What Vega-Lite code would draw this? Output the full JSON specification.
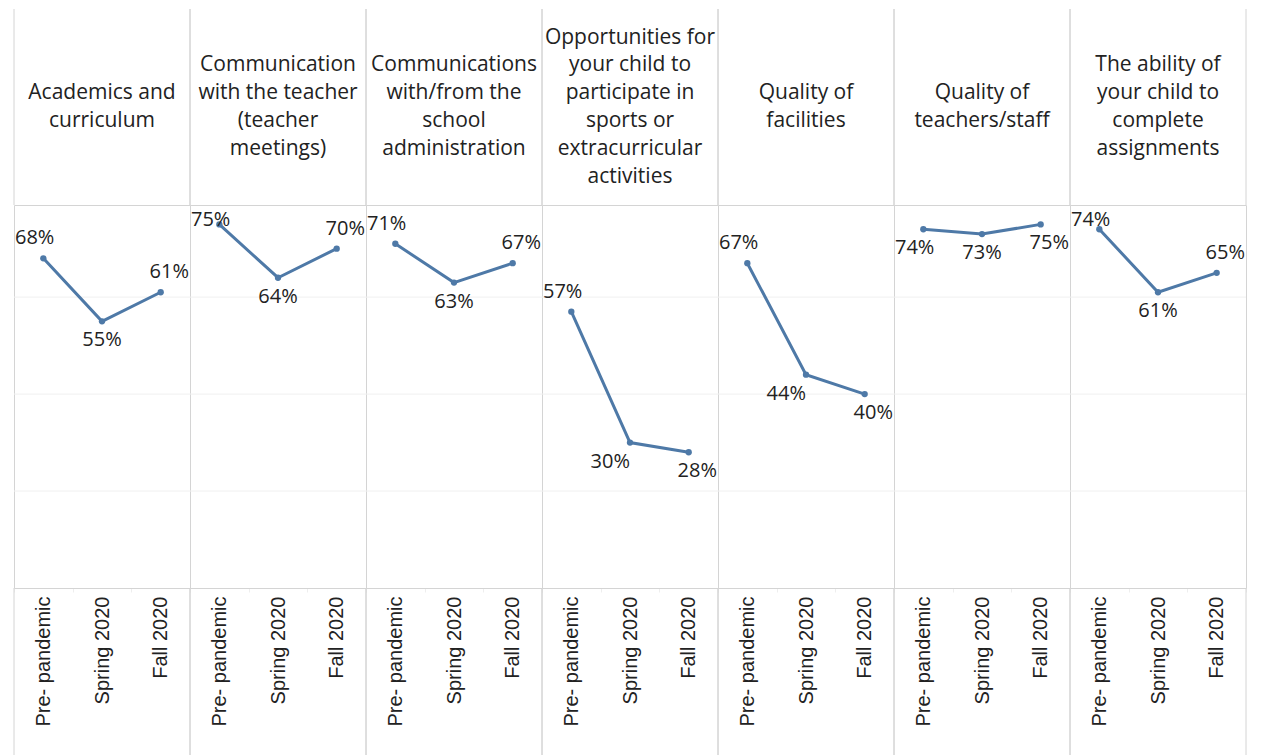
{
  "$schema": "https://vega.github.io/schema/vega-lite/v6.json",
  "padding": {"left": 4, "top": 8, "right": 0, "bottom": 0},
  "autosize": {"type": "pad"},
  "background": "white",
  "config": {"view": {"stroke": "#d4d4d4"}, "font": "Open Sans"},
  "data": {
    "values": [
      {"category": "Academics and|curriculum", "period": "Pre- pandemic", "value": 0.68},
      {"category": "Academics and|curriculum", "period": "Spring 2020", "value": 0.55},
      {"category": "Academics and|curriculum", "period": "Fall 2020", "value": 0.61},
      {"category": "Communication|with the teacher|(teacher|meetings)", "period": "Pre- pandemic", "value": 0.75},
      {"category": "Communication|with the teacher|(teacher|meetings)", "period": "Spring 2020", "value": 0.64},
      {"category": "Communication|with the teacher|(teacher|meetings)", "period": "Fall 2020", "value": 0.70},
      {"category": "Communications|with/from the|school|administration", "period": "Pre- pandemic", "value": 0.71},
      {"category": "Communications|with/from the|school|administration", "period": "Spring 2020", "value": 0.63},
      {"category": "Communications|with/from the|school|administration", "period": "Fall 2020", "value": 0.67},
      {"category": "Opportunities for|your child to|participate in|sports or|extracurricular|activities", "period": "Pre- pandemic", "value": 0.57},
      {"category": "Opportunities for|your child to|participate in|sports or|extracurricular|activities", "period": "Spring 2020", "value": 0.30},
      {"category": "Opportunities for|your child to|participate in|sports or|extracurricular|activities", "period": "Fall 2020", "value": 0.28},
      {"category": "Quality of|facilities", "period": "Pre- pandemic", "value": 0.67},
      {"category": "Quality of|facilities", "period": "Spring 2020", "value": 0.44},
      {"category": "Quality of|facilities", "period": "Fall 2020", "value": 0.40},
      {"category": "Quality of|teachers/staff", "period": "Pre- pandemic", "value": 0.74},
      {"category": "Quality of|teachers/staff", "period": "Spring 2020", "value": 0.73},
      {"category": "Quality of|teachers/staff", "period": "Fall 2020", "value": 0.75},
      {"category": "The ability of|your child to|complete|assignments", "period": "Pre- pandemic", "value": 0.74},
      {"category": "The ability of|your child to|complete|assignments", "period": "Spring 2020", "value": 0.61},
      {"category": "The ability of|your child to|complete|assignments", "period": "Fall 2020", "value": 0.65}
    ]
  },
  "vconcat": [
    {
      "width": 1232,
      "height": 196,
      "view": {"stroke": null},
      "transform": [{"filter": "datum.period == 'Pre- pandemic'"}],
      "layer": [
        {
          "mark": {"type": "rule", "color": "#d4d4d4", "strokeWidth": 1},
          "encoding": {"x": {"field": "category", "type": "nominal", "sort": null, "bandPosition": 0, "scale": {"paddingInner": 0, "paddingOuter": 0}, "axis": null}}
        },
        {
          "mark": {"type": "rule", "color": "#d4d4d4", "strokeWidth": 1},
          "encoding": {"x": {"field": "category", "type": "nominal", "sort": null, "bandPosition": 1, "axis": null}}
        },
        {
          "mark": {"type": "text", "lineBreak": "|", "font": "Open Sans", "fontSize": 21, "lineHeight": 27.8, "color": "#222222", "baseline": "middle", "align": "center",
            "dy": {"expr": "-(length(split(datum.category, '|')) - 1) * 13.9"}},
          "encoding": {
            "x": {"field": "category", "type": "nominal", "sort": null, "axis": null},
            "text": {"field": "category", "type": "nominal"}
          }
        }
      ]
    },
    {
      "facet": {"column": {"field": "category", "type": "nominal",
        "sort": ["Academics and|curriculum", "Communication|with the teacher|(teacher|meetings)", "Communications|with/from the|school|administration", "Opportunities for|your child to|participate in|sports or|extracurricular|activities", "Quality of|facilities", "Quality of|teachers/staff", "The ability of|your child to|complete|assignments"],
        "header": {"title": null, "labels": false}}},
      "spacing": 0,
      "bounds": "flush",
      "spec": {
        "width": 176,
        "height": 383,
        "encoding": {
          "y": {
            "field": "value", "type": "quantitative",
            "scale": {"domain": [0, 0.79], "nice": false, "zero": true},
            "axis": null
          }
        },
        "layer": [
          {"transform": [{"filter": "datum.period == 'Pre- pandemic'"}], "mark": {"type": "rule", "color": "#f0f0f0", "strokeWidth": 1}, "encoding": {"y": {"datum": 0.2}}},
          {"transform": [{"filter": "datum.period == 'Pre- pandemic'"}], "mark": {"type": "rule", "color": "#f0f0f0", "strokeWidth": 1}, "encoding": {"y": {"datum": 0.4}}},
          {"transform": [{"filter": "datum.period == 'Pre- pandemic'"}], "mark": {"type": "rule", "color": "#f0f0f0", "strokeWidth": 1}, "encoding": {"y": {"datum": 0.6}}},
          {"transform": [{"filter": "datum.period == 'Pre- pandemic'"}], "mark": {"type": "rule", "color": "#d4d4d4", "strokeWidth": 1},
            "encoding": {"x": {"field": "period", "type": "nominal", "sort": ["Pre- pandemic", "Spring 2020", "Fall 2020"], "bandPosition": 0}, "y": {"datum": 0}, "y2": {"datum": -0.36}}},
          {"transform": [{"filter": "datum.period == 'Fall 2020'"}], "mark": {"type": "rule", "color": "#d4d4d4", "strokeWidth": 1},
            "encoding": {"x": {"field": "period", "type": "nominal", "sort": ["Pre- pandemic", "Spring 2020", "Fall 2020"], "bandPosition": 1}, "y": {"datum": 0}, "y2": {"datum": -0.36}}},
          {
            "mark": {"type": "line", "color": "#4e79a7", "strokeWidth": 3},
            "encoding": {
              "x": {
                "field": "period", "type": "nominal", "sort": ["Pre- pandemic", "Spring 2020", "Fall 2020"],
                "scale": {"paddingInner": 0, "paddingOuter": 0},
                "axis": {"title": null, "labelAngle": 270, "labelFont": "Liberation Sans", "labelFontSize": 20, "labelColor": "#222222", "labelPadding": 4, "domain": false, "ticks": true, "tickBand": "extent", "tickSize": 4, "tickColor": "#eeeeee", "grid": false}
              }
            }
          },
          {
            "mark": {"type": "point", "filled": true, "opacity": 1, "color": "#4e79a7", "size": 40},
            "encoding": {"x": {"field": "period", "type": "nominal", "sort": ["Pre- pandemic", "Spring 2020", "Fall 2020"]}}
          },
          {
            "transform": [{"filter": "datum.period == 'Pre- pandemic'"}],
            "mark": {"type": "text", "align": "left", "baseline": "middle", "dx": 1, "font": "Open Sans", "fontSize": 20, "color": "#222222",
              "dy": {"expr": "datum.category == 'Quality of|teachers/staff' ? 19 : max(-20, datum.value * 484.8 - 368)"}},
            "encoding": {
              "x": {"field": "period", "type": "nominal", "sort": ["Pre- pandemic", "Spring 2020", "Fall 2020"], "bandPosition": 0},
              "text": {"field": "value", "type": "quantitative", "format": ".0%"}
            }
          },
          {
            "transform": [{"filter": "datum.period == 'Spring 2020'"}],
            "mark": {"type": "text", "baseline": "middle", "dy": 19, "font": "Open Sans", "fontSize": 20, "color": "#222222",
              "align": {"expr": "datum.category == 'Quality of|facilities' || indexof(datum.category, 'Opportunities') == 0 ? 'right' : 'center'"}},
            "encoding": {
              "x": {"field": "period", "type": "nominal", "sort": ["Pre- pandemic", "Spring 2020", "Fall 2020"]},
              "text": {"field": "value", "type": "quantitative", "format": ".0%"}
            }
          },
          {
            "transform": [{"filter": "datum.period == 'Fall 2020'"}],
            "mark": {"type": "text", "align": "right", "baseline": "middle", "dx": -1, "font": "Open Sans", "fontSize": 20, "color": "#222222",
              "dy": {"expr": "datum.category == 'Quality of|teachers/staff' || datum.category == 'Quality of|facilities' || indexof(datum.category, 'Opportunities') == 0 ? 19 : max(-20, datum.value * 484.8 - 368)"}},
            "encoding": {
              "x": {"field": "period", "type": "nominal", "sort": ["Pre- pandemic", "Spring 2020", "Fall 2020"], "bandPosition": 1},
              "text": {"field": "value", "type": "quantitative", "format": ".0%"}
            }
          }
        ]
      }
    }
  ],
  "spacing": 0,
  "bounds": "flush",
  "resolve": {"scale": {"x": "independent", "y": "independent"}}
}
